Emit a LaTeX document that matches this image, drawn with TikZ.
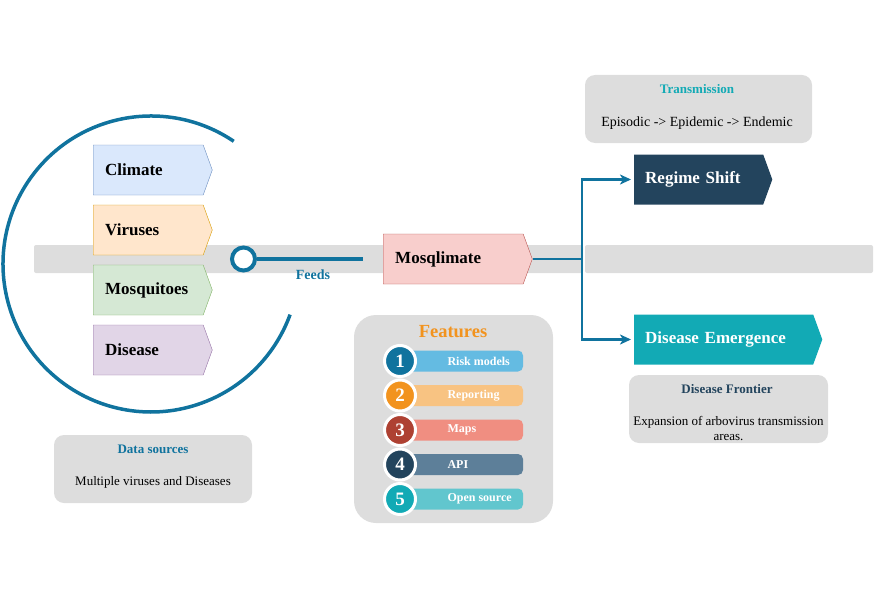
\documentclass[tikz,border=0pt]{standalone}
\usepackage{fontspec}
\setmainfont{Liberation Serif}
\usetikzlibrary{shapes.symbols,arrows.meta,positioning}

\definecolor{mqblue}{HTML}{10739E}
\definecolor{mqnavy}{HTML}{23445D}
\definecolor{mqcyan}{HTML}{12AAB5}
\definecolor{mqorange}{HTML}{F2931E}
\definecolor{mqred}{HTML}{AE4132}
\definecolor{bandgray}{HTML}{DDDDDD}
\definecolor{climfill}{HTML}{DAE8FC}\definecolor{climdraw}{HTML}{6C8EBF}
\definecolor{virfill}{HTML}{FFE6CC}\definecolor{virdraw}{HTML}{D79B00}
\definecolor{mosfill}{HTML}{D5E8D4}\definecolor{mosdraw}{HTML}{82B366}
\definecolor{disfill}{HTML}{E1D5E7}\definecolor{disdraw}{HTML}{9673A6}
\definecolor{hubfill}{HTML}{F8CECC}\definecolor{hubdraw}{HTML}{B85450}
\definecolor{barA}{HTML}{64BBE2}
\definecolor{barB}{HTML}{F8C382}
\definecolor{barC}{HTML}{F08E81}
\definecolor{barD}{HTML}{5D7F99}
\definecolor{barE}{HTML}{61C6CE}

\tikzset{
  pentabox/.style={shape=signal, signal to=east, signal pointer angle=140,
    minimum height=50pt, inner ysep=0pt, align=left, anchor=west,
    font=\fontsize{17}{20}\selectfont\bfseries},
  srcstep/.style={pentabox, inner xsep=12pt, text width=86pt},
  infobox/.style={fill=bandgray, rounded corners=10pt, inner sep=0pt},
  flow/.style={mqblue, line width=2.5pt},
  flowarrow/.style={flow, -{Stealth[length=11pt,width=10pt,inset=3pt]}, shorten >=3pt},
}

\begin{document}
\begin{tikzpicture}[x=1pt,y=-1pt]
\useasboundingbox (0,0) rectangle (874,599);

% the grey track
\fill[bandgray, rounded corners=2pt] (34,245) rectangle (583,273);
\fill[bandgray, rounded corners=2pt] (585,245) rectangle (873,273);

% ring round the data sources
\draw[mqblue, line width=3.5pt] (151,264) ++(-56:148) arc[start angle=-56, end angle=-340, radius=148];

\node[srcstep, fill=climfill, draw=climdraw] (climate) at (93,170) {Climate};
\node[srcstep, fill=virfill, draw=virdraw] (viruses) at (93,230) {Viruses};
\node[srcstep, fill=mosfill, draw=mosdraw] (mosquitoes) at (93,290) {Mosquitoes};
\node[srcstep, fill=disfill, draw=disdraw] (disease) at (93,350) {Disease};

% feeds
\node[circle, draw=mqblue, fill=white, line width=4pt, minimum size=23pt, inner sep=0pt] (feedring) at (243.5,259) {};
\coordinate (feedend) at (363,259);
\draw[mqblue, line width=4pt] (feedring.east) -- (feedend);
\node[text=mqblue, font=\fontsize{14}{16}\selectfont\bfseries] (feeds) at (313,275) {Feeds};

% hub
\node[pentabox, fill=hubfill, draw=hubdraw, inner xsep=12pt, text width=116pt] (mosq) at (383,259) {Mosqlimate};

% outcomes
\node[pentabox, fill=mqnavy, text=white, inner xsep=11pt, text width=107pt] (regime) at (634,179.5) {Regime Shift};
\node[pentabox, fill=mqcyan, text=white, inner xsep=11pt, text width=157pt] (emerge) at (634,339.5) {Disease Emergence};

\coordinate (split) at (582,259);
\draw[flow] (mosq.east) -- (split);
\draw[flowarrow] (split) |- (regime.west);
\draw[flowarrow] (split) |- (emerge.west);

% transmission
\node[infobox, minimum width=227pt, minimum height=68pt] (trans) at (698.5,109) {};
\node[text=mqcyan, font=\fontsize{13}{15}\selectfont\bfseries] (transtitle) at (697,89) {Transmission};
\node[font=\fontsize{14}{16}\selectfont] (transtext) at (697,123) {Episodic -> Epidemic -> Endemic};

% disease frontier
\node[infobox, minimum width=199pt, minimum height=68pt] (frontier) at (728.5,409) {};
\node[text=mqnavy, font=\fontsize{13}{15}\selectfont\bfseries] (fronttitle) at (727,389) {Disease Frontier};
\node[align=center, font=\fontsize{13}{15}\selectfont] (fronttext) at (728.5,428.5) {Expansion of arbovirus transmission\\areas.};

% data sources
\node[infobox, minimum width=198pt, minimum height=68pt] (sources) at (153,469) {};
\node[text=mqblue, font=\fontsize{13}{15}\selectfont\bfseries] (srctitle) at (153,449) {Data sources};
\node[font=\fontsize{13}{15}\selectfont] (srctext) at (153,482) {Multiple viruses and Diseases};

% features
\node[infobox, rounded corners=22pt, minimum width=199pt, minimum height=208pt] (features) at (453.5,419) {};
\node[text=mqorange, font=\fontsize{18.5}{21}\selectfont\bfseries] (feattitle) at (453,332) {Features};
\foreach \lbl/\bar/\dot [count=\i] in {Risk models/barA/mqblue, Reporting/barB/mqorange,
    Maps/barC/mqred, API/barD/mqnavy, Open source/barE/mqcyan}{
  \pgfmathsetmacro\yy{361+(\i-1)*34.5}
  \fill[\bar, rounded corners=5pt] (400,\yy-10.5) rectangle (523,\yy+10.5);
  \node[circle, fill=\dot, draw=white, line width=3pt, minimum size=31pt, inner sep=0pt,
    text=white, font=\fontsize{19}{19}\selectfont\bfseries] (num\i) at (400,\yy) {\i};
  \node[anchor=west, text=white, font=\fontsize{12}{14}\selectfont\bfseries] (feat\i) at (444,\yy) {\lbl};
}

\end{tikzpicture}
\end{document}
